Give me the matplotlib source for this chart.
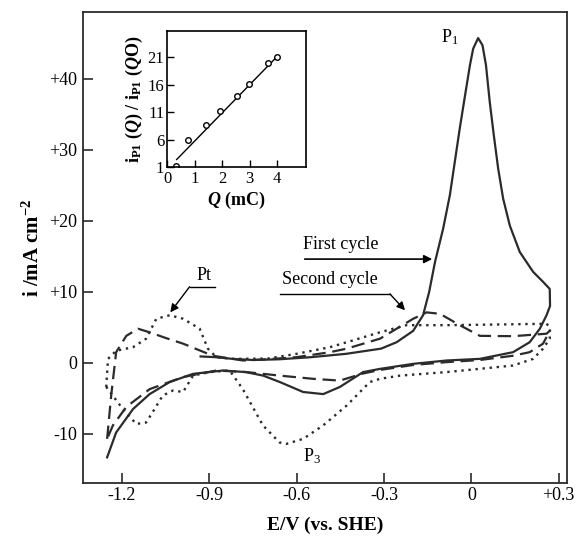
import matplotlib
matplotlib.use("Agg")
import matplotlib.pyplot as plt
import numpy as np

plt.rcParams['font.family'] = ['Liberation Serif', 'DejaVu Serif']
plt.rcParams['mathtext.fontset'] = 'custom'
plt.rcParams['mathtext.rm'] = 'Liberation Serif'
plt.rcParams['mathtext.it'] = 'Liberation Serif:italic:bold'
plt.rcParams['mathtext.bf'] = 'Liberation Serif:bold'

# first cycle (solid)
E_first = [-0.93, -0.88, -0.82, -0.75, -0.66, -0.55, -0.43, -0.31, -0.257, -0.2, -0.166,
           -0.145, -0.125, -0.097, -0.074, -0.057, -0.04, -0.022, -0.005, 0.006, 0.023,
           0.038, 0.05, 0.063, 0.077, 0.092, 0.109, 0.132, 0.166, 0.212, 0.246, 0.269,
           0.27, 0.258, 0.235, 0.2, 0.143,
           0.029, -0.085, -0.2, -0.314, -0.372, -0.452, -0.509, -0.578, -0.658, -0.715,
           -0.775, -0.853, -0.956, -1.036, -1.105, -1.162, -1.22, -1.251]
i_first = [0.9, 0.8, 0.56, 0.4, 0.5, 0.8, 1.27, 2.0, 2.9, 4.5, 6.7,
           10.0, 14.2, 18.9, 23.6, 28.3, 33.0, 37.6, 41.9, 44.2, 45.7,
           44.7, 41.9, 36.7, 32.0, 27.3, 23.1, 19.3, 15.6, 12.8, 11.4, 10.4,
           8.0, 6.7, 4.8, 2.9, 1.5,
           0.56, 0.33, -0.14, -0.85, -1.3, -3.4, -4.4, -4.1, -2.7, -1.8,
           -1.3, -1.08, -1.55, -2.7, -4.4, -6.5, -9.8, -13.3]

# second cycle (dashed)
E_second = [-1.251, -1.237, -1.22, -1.185, -1.145, -1.105, -1.05, -0.99, -0.888, -0.785,
            -0.703, -0.6, -0.486, -0.428, -0.314, -0.257, -0.2, -0.154, -0.108,
            -0.04, 0.029, 0.143, 0.258, 0.269, 0.264, 0.246, 0.2, 0.143, 0.029, -0.085,
            -0.2, -0.314, -0.372, -0.452, -0.543, -0.658, -0.772, -0.876, -0.99,
            -1.105, -1.185, -1.231, -1.251]
i_second = [-10.7, -4.6, 1.5, 3.8, 4.8, 4.3, 3.5, 2.7, 1.0, 0.33,
            0.5, 0.8, 1.5, 2.0, 3.4, 4.8, 6.2, 7.1, 6.9,
            5.3, 3.8, 3.75, 4.1, 4.5, 4.1, 2.7, 1.5, 1.0, 0.4, 0.1,
            -0.3, -1.0, -1.5, -2.5, -2.25, -1.8, -1.3, -1.08, -2.0,
            -3.7, -6.2, -8.8, -10.7]

# Pt electrode (dotted)
E_pt = [-1.254, -1.248, -1.22, -1.162, -1.117, -1.082, -1.036, -0.99, -0.933,
        -0.905, -0.876, -0.82, -0.7, -0.6, -0.486, -0.428, -0.314, -0.223, -0.085, 0.1,
        0.258, 0.27, 0.269, 0.246, 0.212, 0.143, -0.085, -0.246, -0.314, -0.349, -0.428,
        -0.509, -0.578, -0.635, -0.659, -0.716, -0.785, -0.83, -0.9, -0.956, -0.99,
        -1.025, -1.06, -1.094, -1.117, -1.151, -1.197, -1.254]
i_pt = [-3.4, 0.56, 1.7, 2.2, 3.4, 6.2, 6.7, 6.2, 4.8,
        2.0, 0.8, 0.56, 0.6, 1.27, 2.2, 2.9, 4.3, 5.3, 5.3, 5.4,
        5.5, 5.0, 3.4, 2.0, 0.56, -0.38, -1.3, -1.8, -2.25, -2.7, -6.0,
        -8.8, -10.7, -11.4, -11.2, -8.8, -3.7, -1.08, -1.3, -1.8, -4.1,
        -3.9, -4.6, -6.9, -8.4, -8.6, -6.5, -3.4]

# inset data
Q_mC = [0.32, 0.78, 1.42, 1.93, 2.56, 2.98, 3.66, 3.99]
ratio = [1.2, 5.9, 8.6, 11.2, 14.0, 16.1, 20.0, 21.0]
fit_Q = [0.35, 3.95]
fit_ratio = [2.4, 20.8]

xticks = [-1.2, -0.9, -0.6, -0.3, 0.0, 0.3]
xticklabels = ['-1.2', '-0.9', '-0.6', '-0.3', '0', '+0.3']
yticks = [-10, 0, 10, 20, 30, 40]
yticklabels = ['-10', '0', '+10', '+20', '+30', '+40']

col = '#2b2b2b'
fig = plt.figure(figsize=(5.76, 5.36), dpi=100)
ax = fig.add_axes([0.144, 0.099, 0.84, 0.879])

ax.plot(E_first, i_first, color=col, lw=1.6, ls='-', solid_joinstyle='round')
ax.plot(E_second, i_second, color=col, lw=1.6, ls=(0, (6, 3)))
ax.plot(E_pt, i_pt, color=col, lw=1.7, ls=(0, (1, 2)))

ax.set_xlim(-1.334, 0.3275)
ax.set_ylim(-16.9, 49.4)
ax.set_xticks(xticks)
ax.set_xticklabels(xticklabels)
ax.set_yticks(yticks)
ax.set_yticklabels(yticklabels)
ax.tick_params(direction='in', length=7, width=1.2, labelsize=13, color=col)
ax.tick_params(axis='x', pad=3)
ax.tick_params(axis='y', pad=4)
for s in ax.spines.values():
    s.set_linewidth(1.3)
    s.set_color(col)
ax.set_xlabel('E/V (vs. SHE)', fontsize=14, fontweight='bold', labelpad=9)
ax.set_ylabel(r'i /mA cm$^{\mathbf{-2}}$', fontsize=15, fontweight='bold', labelpad=4)

# annotations
ax.text(-0.074, 45.9, r'P$_1$', fontsize=13, ha='center', va='center')
ax.text(-0.549, -13.1, r'P$_3$', fontsize=13, ha='center', va='center')

ax.text(-0.579, 16.6, 'First cycle', fontsize=13, ha='left', va='center')
ax.annotate('', xy=(-0.125, 14.6), xytext=(-0.582, 14.6),
            arrowprops=dict(arrowstyle='-|>', color='black', lw=1.2, mutation_scale=12))

ax.text(-0.651, 11.7, 'Second cycle', fontsize=13, ha='left', va='center')
ax.plot([-0.658, -0.28], [9.7, 9.7], color='black', lw=1.0)
ax.annotate('', xy=(-0.228, 7.4), xytext=(-0.28, 9.7),
            arrowprops=dict(arrowstyle='-|>', color='black', lw=1.0, mutation_scale=12,
                            shrinkA=0, shrinkB=0))

ax.text(-0.917, 12.3, 'Pt', fontsize=13, ha='center', va='center')
ax.plot([-0.968, -0.882], [10.7, 10.7], color='black', lw=1.0)
ax.annotate('', xy=(-1.034, 7.1), xytext=(-0.968, 10.7),
            arrowprops=dict(arrowstyle='-|>', color='black', lw=1.0, mutation_scale=12,
                            shrinkA=0, shrinkB=0))

# inset
ins = fig.add_axes([0.290, 0.688, 0.241, 0.254])
ins.plot(fit_Q, fit_ratio, color='black', lw=1.0)
ins.plot(Q_mC, ratio, 'o', mfc='white', mec='black', ms=4, mew=1.0)
ins.set_xlim(0, 5.05)
ins.set_ylim(1, 25.7)
ins.set_xticks([0, 1, 2, 3, 4])
ins.set_yticks([1, 6, 11, 16, 21])
ins.tick_params(direction='in', length=5, width=1.0, labelsize=12, pad=2)
ins.tick_params(axis='x', pad=3)
for s in ins.spines.values():
    s.set_linewidth(1.2)
ins.set_xlabel(r'$Q$ (mC)', fontsize=13, fontweight='bold', labelpad=2)
ins.set_ylabel(r'$\mathbf{i}_{\mathbf{P1}}$ ($Q$) / $\mathbf{i}_{\mathbf{P1}}$ ($Q$O)',
               fontsize=13, fontweight='bold', labelpad=2)

fig.savefig('out.png', dpi=100)
